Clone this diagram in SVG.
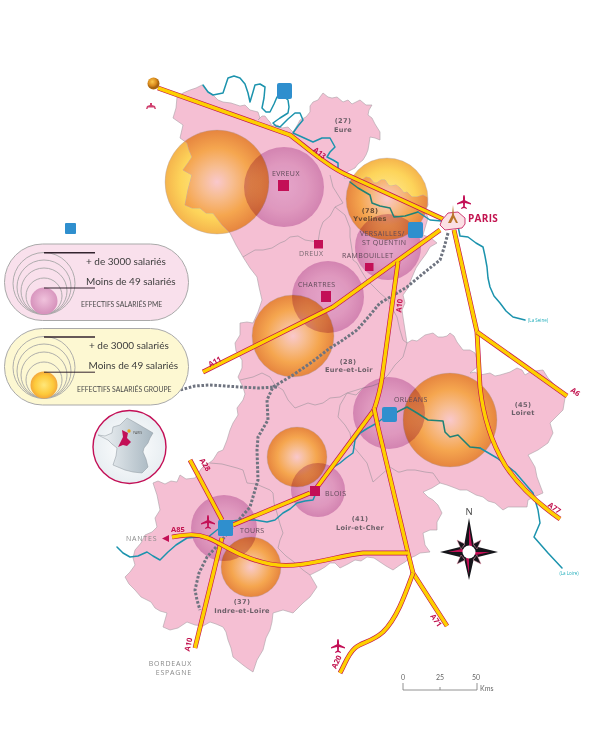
<svg xmlns="http://www.w3.org/2000/svg" xmlns:xlink="http://www.w3.org/1999/xlink" width="600" height="740" viewBox="0 0 600 740">
<style>
.river{fill:none;stroke:#1b93ad;stroke-width:1.5;stroke-linejoin:round;stroke-linecap:round}
.green{stroke:#1f8276}
.rb{fill:none;stroke:#c2134f;stroke-width:4.8;stroke-linejoin:round;stroke-linecap:butt}
.ry{fill:none;stroke:#fdd000;stroke-width:3.5;stroke-linejoin:round;stroke-linecap:butt}
.dept{fill:none;stroke:#a99aa3;stroke-width:.7;stroke-linejoin:round}
.tgv{fill:none;stroke:#6f7480;stroke-width:3;stroke-dasharray:2.6 1.7}
.sq{fill:#c30f56}
.blue{fill:#2f8fce}
.orange{fill:url(#og);stroke:#a8a0b8;stroke-opacity:.5;stroke-width:.7}
.yellow{fill:url(#yg);stroke:#a8a0b8;stroke-opacity:.5;stroke-width:.7}
.purple{fill:url(#pg);mix-blend-mode:multiply}
.city{font:7px "Open Sans",sans-serif;fill:#5f4a58;letter-spacing:.4px}
.gray{font:7px "Open Sans",sans-serif;fill:#8a8a8a;letter-spacing:.8px}
.dpt{font:bold 6.6px "DejaVu Sans",sans-serif;fill:#6c5f68;text-anchor:middle;letter-spacing:.3px}
.rd{font:bold 7.5px "Open Sans",sans-serif;fill:#c2134f;text-anchor:middle}
.leg{font:10px "Lato",sans-serif;fill:#3c3c3c}
.cap{font:6.8px "Lato",sans-serif;fill:#4a4a4a}
.sc{font:7px "Lato",sans-serif;fill:#666;text-anchor:middle}
.rv{font:4.5px "Open Sans",sans-serif;fill:#22aebb;text-anchor:middle}
.lring{fill:none;stroke:#a6a6a6;stroke-width:.9}
</style>
<defs>
<radialGradient id="og"><stop offset="0" stop-color="#f9c8cc"/><stop offset=".3" stop-color="#f7bd90"/><stop offset=".65" stop-color="#f5a64f"/><stop offset="1" stop-color="#e6853f"/></radialGradient>
<radialGradient id="yg"><stop offset="0" stop-color="#ffee9a"/><stop offset=".7" stop-color="#fdd45a"/><stop offset="1" stop-color="#f5b44c"/></radialGradient>
<radialGradient id="pg"><stop offset="0" stop-color="#efdcf4"/><stop offset=".6" stop-color="#e8cbe6"/><stop offset="1" stop-color="#dcb0d6"/></radialGradient>
<radialGradient id="lp" cx=".5" cy=".45"><stop offset="0" stop-color="#f0c2dc"/><stop offset="1" stop-color="#d794bd"/></radialGradient>
<radialGradient id="ly"><stop offset="0" stop-color="#ffe77a"/><stop offset=".7" stop-color="#fdc93a"/><stop offset="1" stop-color="#f3a73a"/></radialGradient>
<radialGradient id="ball" cx=".4" cy=".35"><stop offset="0" stop-color="#fbc94e"/><stop offset=".7" stop-color="#d98a1c"/><stop offset="1" stop-color="#a86410"/></radialGradient>
<radialGradient id="insetbg"><stop offset="0" stop-color="#ffffff"/><stop offset="1" stop-color="#e8eef2"/></radialGradient>
<linearGradient id="fr" x1="0" x2="1"><stop offset="0" stop-color="#f2f5f7"/><stop offset="1" stop-color="#a7b6c0"/></linearGradient>
<path id="plane" d="M0,-7C.8,-7 1,-5.300 1,-3.700L1,-1.800 7,1.200 7,2.500 1,1 .8,4.500 2.900,6 2.900,6.900 0,6 -2.900,6.900 -2.900,6 -.8,4.500 -1,1 -7,2.500 -7,1.200 -1,-1.800 -1,-3.700C-1,-5.300 -.8,-7 0,-7Z" fill="#c30f56"/>
<path id="regionShape" d="M177,97 L183,93 190,90 196,88 202,85 207,91 213,95 218,100 223,102 231,103 240,106 245,105 250,110 258,112 260,118 258,120 262,116 265,116 268,120 270,122 272,126 277,125 282,128 288,127 293,132 298,124 300,120 306,117 310,112 310,106 313,102 318,100 320,97 323,93 328,97 332,98 337,97 343,102 348,100 352,104 360,100 366,105 372,105 369,110 368,115 372,118 375,124 380,132 380,140 375,138 370,137 369,144 368,150 366,155 363,160 358,164 355,168 347,172 344,178 353,178 358,181 362,180 366,177 370,178 374,183 377,183 381,180 385,180 389,186 392,186 396,185 400,188 404,193 407,192 412,197 417,197 423,195 427,197 428,205 425,210 428,218 425,228 423,235 431,238 437,243 430,247 426,254 420,262 416,268 413,275 410,282 408,288 403,295 405,303 402,310 403,317 405,330 407,343 412,340 417,341 425,335 433,333 438,337 443,337 447,336 450,333 454,336 457,342 463,350 470,350 475,353 477,360 477,367 470,373 475,372 480,375 490,373 495,376 500,375 510,372 517,368 522,370 525,375 530,372 535,371 543,370 548,378 552,382 558,389 565,398 563,410 557,416 550,423 553,433 548,443 538,450 528,455 535,467 537,477 543,493 536,496 528,500 527,507 515,507 508,507 503,510 495,503 488,501 483,497 476,495 467,490 460,490 455,488 447,485 440,483 432,488 423,492 428,497 433,500 438,505 442,513 437,522 437,530 430,530 423,533 425,545 430,552 420,553 415,556 410,558 405,562 400,565 393,570 386,566 380,562 374,558 367,557 361,561 355,560 348,564 340,568 335,563 330,563 325,567 320,570 310,575 317,587 310,597 303,603 293,613 283,610 273,613 272,622 270,630 266,638 263,650 257,660 253,672 247,668 243,665 238,661 233,657 231,648 228,640 226,632 223,627 216,624 210,622 203,626 195,625 187,622 178,628 170,630 163,627 167,613 160,611 155,608 151,602 147,600 141,597 135,590 129,584 125,577 130,572 135,565 133,558 135,550 141,543 145,535 152,532 157,527 155,518 160,510 157,495 153,483 158,481 165,484 171,481 177,482 180,475 186,479 195,478 201,469 205,465 209,463 213,460 218,452 223,450 227,440 230,430 233,423 238,415 237,408 243,400 245,394 243,387 238,377 242,368 242,360 236,351 235,343 240,335 240,323 247,322 253,323 258,312 262,300 259,287 257,277 250,268 243,257 236,245 230,233 222,225 213,213 206,213 200,208 192,208 185,205 188,190 192,175 183,170 188,163 192,157 189,150 187,143 180,138 183,125 173,118 176,108Z"/>
<clipPath id="region"><use xlink:href="#regionShape"/></clipPath>
</defs>

<g id="outer-circles">
<circle class="yellow" cx="217" cy="182" r="52"/>
<circle class="yellow" cx="387" cy="199" r="41"/>
</g>
<g id="region-map">
<use xlink:href="#regionShape" fill="#f5bfd3" stroke="#a9a0a6" stroke-width=".6"/>
<path class="dept" d="M330,175 333,187 338,195 343,203 335,207 330,216 323,222 320,230 318,242 305,240 298,236 290,237 285,241 280,243 272,248 263,250 255,250 248,254 243,257"/>
<path class="dept" d="M335,207 345,215 350,228 350,237 352,250 353,260 357,263 362,272 367,280 375,288 380,293 388,300 392,308 397,317 400,330 403,340 407,343 403,357 395,365 388,375 380,383 372,386 363,388 356,395 347,393 340,397 330,398 323,403 315,405 308,403 295,408 288,400 283,390 275,385 270,377 262,373 253,377 240,380"/>
<path class="dept" d="M363,388 347,393 340,405 338,417 345,425 350,433 352,445 358,452 367,463 373,482 382,474 390,467 398,472 400,472 407,470 415,470 425,472 433,473 440,483"/>
<path class="dept" d="M210,463 222,464 237,468 243,470 247,483 256,484 263,487 270,490 273,493 274,503 277,513 280,524 283,533 280,540 278,548 286,556 294,562 303,570 310,575"/>
</g>
<g id="circles" clip-path="url(#region)">
<circle class="orange" cx="217" cy="182" r="52"/>
<circle class="orange" cx="387" cy="199" r="41"/>
</g>
<g id="circles-inner">
<circle class="orange" cx="293" cy="336" r="41"/>
<circle class="orange" cx="450" cy="420" r="47"/>
<circle class="orange" cx="297" cy="457" r="30"/>
<circle class="orange" cx="251" cy="567" r="30"/>
<circle class="purple" cx="284" cy="187" r="40"/>
<circle class="purple" cx="388" cy="247" r="33"/>
<circle class="purple" cx="328" cy="297" r="36"/>
<circle class="purple" cx="389" cy="413" r="36"/>
<circle class="purple" cx="318" cy="490" r="27"/>
<circle class="purple" cx="224" cy="528" r="33"/>
</g>

<g id="connectors">
<g id="rail">
<path class="tgv" d="M448,233 444,248 440,260 425,272 407,287 392,296 380,303 370,315 357,330 340,342 330,348 312,362 293,375 273,387 267,400 268,420 258,437 257,450 258,480 250,507 230,530 218,545 207,557 199,573 195,590 197,600 200,610"/>
<path class="tgv" d="M277,387 258,388 240,387 225,386 210,385 195,386 180,390 165,394"/>
</g>
<g id="rivers">
<path class="river" d="M203,85 208,92 213,95 223,93 226,84 228,78 234,76 240,78 245,84 248,93 250,102 253,92 255,85 260,84 265,87 264,98 262,108 266,112 270,112 274,104 277,97 283,96 288,100 289,107 288,113 280,118 273,123 276,126 280,127 288,119 295,113 300,113 303,120 298,126 293,133 302,137 313,142 322,138 330,138 335,147 330,152 327,157 333,160 338,163 338,170"/>
<path class="river green" d="M350,182 358,188 370,195 372,203 380,206 390,208 394,217 405,216 418,212"/>
<path class="river" d="M418,212 430,220 442,221 450,222 458,226 460,236 468,237 476,243 483,247 485,256 487,267 488,278 490,287 494,296 500,303 506,311 513,317 525,320"/>
<path class="river" d="M397,412 386,416 377,423 368,428 360,433 355,440 354,447 353,453 346,458 340,463 331,469 323,477 318,485 316,493 313,500 305,501 297,503 290,509 283,513 275,520 267,522 255,520 243,520 230,521 217,530 207,538 197,537 187,538 176,545 168,552 160,560 153,556 147,552 138,556 130,557 123,553 117,547"/>
<path class="river green" d="M397,412 407,407 417,413 428,420 443,421 445,432 450,437 458,435 470,447 480,448"/>
<path class="river" d="M480,448 497,458 515,472 533,493 538,510 540,523 534,537 548,553 562,568"/>
</g>
<g id="roads">
<path class="rb" d="M158,88 290,135C300,142 325,165 345,174L443,219"/><path class="ry" d="M158,88 290,135C300,142 325,165 345,174L443,219"/>
<path class="rb" d="M203,372 333,307 440,230"/><path class="ry" d="M203,372 333,307 440,230"/>
<path class="rb" d="M398,262 382,378Q380,392 374,410L315,490"/><path class="ry" d="M398,262 382,378Q380,392 374,410L315,490"/>
<path class="rb" d="M374,408 378,427 393,490 408,553 413,573 447,626"/><path class="ry" d="M374,408 378,427 393,490 408,553 413,573 447,626"/>
<path class="rb" d="M413,573C405,595 397,618 383,632 372,642 362,642 355,648 348,654 345,664 340,673"/><path class="ry" d="M413,573C405,595 397,618 383,632 372,642 362,642 355,648 348,654 345,664 340,673"/>
<path class="rb" d="M454,230 477,332 480,387C483,415 490,440 505,465 520,488 540,505 560,519"/><path class="ry" d="M454,230 477,332 480,387C483,415 490,440 505,465 520,488 540,505 560,519"/>
<path class="rb" d="M477,332 567,396"/><path class="ry" d="M477,332 567,396"/>
<path class="rb" d="M190,460 222,520"/><path class="ry" d="M190,460 222,520"/>
<path class="rb" d="M222,538 195,648"/><path class="ry" d="M222,538 195,648"/>
<path class="rb" d="M233,525 310,493"/><path class="ry" d="M233,525 310,493"/>
<path class="rb" d="M172,537C185,535 195,533 208,538 225,545 240,558 270,564 300,570 335,556 363,553L408,553"/><path class="ry" d="M172,537C185,535 195,533 208,538 225,545 240,558 270,564 300,570 335,556 363,553L408,553"/>
</g>
</g>

<g id="paris">
<path d="M440,225 442,220 448,213 458,212 465,218 465,224 462,228 445,230Z" fill="#fbdfe4" stroke="#c30f56" stroke-width=".8"/>
<path d="M453,205 454,215 458,223 456,223 453.500,218 451,223 448,223 452,215Z" fill="#b9752a"/>
<use xlink:href="#plane" x="464" y="202"/>
<text x="468" y="222" style="font:bold 10px 'Open Sans',sans-serif;fill:#c2134f;letter-spacing:.3px">PARIS</text>
</g>

<g id="squares">
<rect class="blue" x="277" y="83" width="15" height="16" rx="2"/>
<rect class="blue" x="408" y="222" width="15" height="16" rx="2"/>
<rect class="blue" x="382" y="407" width="15" height="15" rx="2"/>
<rect class="blue" x="218" y="520" width="15" height="16" rx="1.500"/>
<rect class="blue" x="65" y="223" width="11" height="11" rx="1"/>
<rect class="sq" x="278" y="180" width="11" height="11"/>
<rect class="sq" x="314" y="240" width="9" height="8.500"/>
<rect class="sq" x="365" y="263" width="8.500" height="8"/>
<rect class="sq" x="321" y="291" width="10" height="11"/>
<rect class="sq" x="310" y="486" width="10" height="10"/>
</g>

<g id="start">
<circle cx="153.500" cy="83.500" r="6" fill="url(#ball)"/>
<path d="M146,109 147,106 150,105 150,103 152,103 152,105 155,106 156,109 154.500,109 154,107.500 148,107.500 147.500,109Z" fill="#d0406f"/>
<use xlink:href="#plane" x="338" y="646"/>
<use xlink:href="#plane" x="208" y="522"/>
<path d="M162,538.500 169,535 169,542Z" fill="#c30f56"/>
</g>

<g id="labels">
<text class="city" x="272" y="176">EVREUX</text>
<text class="city" x="299" y="256" style="fill:#7a6a72">DREUX</text>
<text class="city" x="342" y="258">RAMBOUILLET</text>
<text class="city" x="360" y="236">VERSAILLES/</text>
<text class="city" x="362" y="244.500">ST QUENTIN</text>
<text class="city" x="298" y="287">CHARTRES</text>
<text class="city" x="394" y="402">ORLEANS</text>
<text class="city" x="325" y="496">BLOIS</text>
<text class="city" x="240" y="533">TOURS</text>
<text class="gray" x="126" y="541">NANTES</text>
<text class="gray" x="192" y="666" text-anchor="end">BORDEAUX</text>
<text class="gray" x="192" y="675" text-anchor="end">ESPAGNE</text>
<text class="dpt" x="343" y="123">(27)</text><text class="dpt" x="343" y="132">Eure</text>
<text class="dpt" x="370" y="213" style="fill:#6a4a30">(78)</text><text class="dpt" x="370" y="221" style="fill:#6a4a30">Yvelines</text>
<text class="dpt" x="348" y="364">(28)</text><text class="dpt" x="349" y="372">Eure-et-Loir</text>
<text class="dpt" x="523" y="407">(45)</text><text class="dpt" x="523" y="415">Loiret</text>
<text class="dpt" x="360" y="521">(41)</text><text class="dpt" x="360" y="530">Loir-et-Cher</text>
<text class="dpt" x="242" y="604">(37)</text><text class="dpt" x="242" y="613">Indre-et-Loire</text>
<text class="rd" transform="translate(318 155) rotate(38)">A13</text>
<text class="rd" transform="translate(402 306) rotate(-84)">A10</text>
<text class="rd" transform="translate(216 364) rotate(-28)">A11</text>
<text class="rd" transform="translate(203 466) rotate(58)">A28</text>
<text class="rd" x="178" y="532">A85</text>
<text class="rd" transform="translate(191 645) rotate(-78)">A10</text>
<text class="rd" transform="translate(339 663) rotate(-65)">A20</text>
<text class="rd" transform="translate(434 622) rotate(55)">A71</text>
<text class="rd" transform="translate(553 510) rotate(35)">A77</text>
<text class="rd" transform="translate(574 394) rotate(35)">A6</text>
<text class="rv" x="538" y="322">(La Seine)</text>
<text class="rv" x="569" y="575">(La Loire)</text>
</g>

<g id="legend-pme">
<rect x="4.500" y="244" width="184" height="76.500" rx="38" fill="#f9e0ec" stroke="#a9a9a9"/>
<circle class="lring" cx="44" cy="283.500" r="31"/><circle class="lring" cx="44" cy="287" r="27"/><circle class="lring" cx="44" cy="291" r="23"/><circle class="lring" cx="44" cy="296" r="18"/>
<circle cx="44" cy="301" r="13.500" fill="url(#lp)"/>
<path d="M44,252.800H95" stroke="#33232e" stroke-width="1.600"/><path d="M44,288H95" stroke="#33232e" stroke-width="1"/>
<text class="leg" x="86" y="265">+ de 3000 salariés</text>
<text class="leg" x="86" y="285">Moins de 49 salariés</text>
<text class="cap" x="81" y="307">EFFECTIFS SALARIÉS PME</text>
</g>
<g id="legend-groupe">
<rect x="4.500" y="328.500" width="184" height="76.500" rx="38" fill="#fdf8d2" stroke="#a9a9a9"/>
<circle class="lring" cx="44" cy="367.500" r="31"/><circle class="lring" cx="44" cy="371" r="27"/><circle class="lring" cx="44" cy="375" r="23"/><circle class="lring" cx="44" cy="380" r="18"/>
<circle cx="44" cy="385" r="13.500" fill="url(#ly)"/>
<path d="M44,337H95" stroke="#33232e" stroke-width="1.400"/><path d="M44,372.200H95" stroke="#33232e" stroke-width="1"/>
<text class="leg" x="89" y="349">+ de 3000 salariés</text>
<text class="leg" x="88.500" y="369">Moins de 49 salariés</text>
<text class="cap" x="77" y="392">EFFECTIFS SALARIÉS GROUPE</text>
</g>

<g id="inset">
<circle cx="129.500" cy="447" r="36.500" fill="url(#insetbg)" stroke="#c30f56" stroke-width="1.400"/>
<path d="M98,435 105,436 112,433 113,427 120,425 127,418 136,423 148,430 153,433 150,438 148,443 144,448 143,452 146,459 148,467 142,473 133,472 125,470 113,465 116,456 117,448 112,444 108,440Z" fill="url(#fr)" stroke="#8b959c" stroke-width=".5"/>
<path d="M118,447 121,441 123,437 122,430 128,433 127,438 131,442 127,446 123,445Z" fill="#c30f56"/>
<circle cx="129" cy="431" r="1.700" fill="#e3a21e"/>
<text x="133" y="434" style="font:3.400px 'Open Sans',sans-serif;fill:#555">PARIS</text>
</g>

<g id="compass">
<path d="M469,518 474,546 498,552 474,558 469,580 464,558 440,552 464,546Z" fill="#15151a"/>
<path d="M469,526 472,546 469,549Z M469,574 466,558 469,555Z M448,552 462,549 466,552Z M490,552 476,555 472,552Z" fill="#c30f56"/>
<path d="M457,540 465,544 461,549Z M481,540 473,544 477,549Z M457,564 465,560 461,555Z M481,564 473,560 477,555Z" fill="#15151a" stroke="#e890ab" stroke-width=".5"/>
<circle cx="469" cy="552" r="6.500" fill="#fff"/>
<text x="469" y="515" text-anchor="middle" style="font:9.500px 'Open Sans',sans-serif;fill:#444">N</text>
</g>

<g id="scale">
<path d="M403,683V690H477V683M440,687V690" fill="none" stroke="#777" stroke-width=".8"/>
<text class="sc" x="403" y="680">0</text>
<text class="sc" x="440" y="680">25</text>
<text class="sc" x="476" y="680">50</text>
<text x="480" y="691" style="font:7px Lato,sans-serif;fill:#666">Kms</text>
</g>
</svg>
